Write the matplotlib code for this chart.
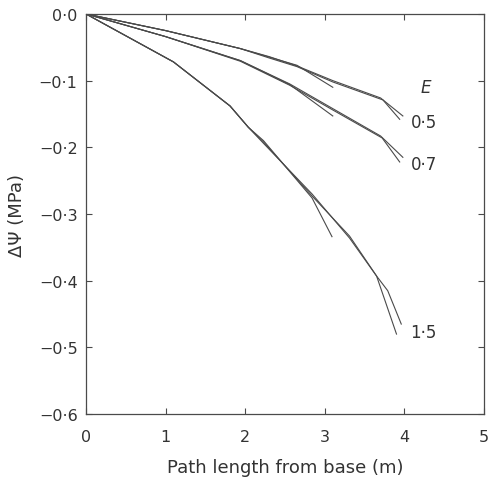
import numpy as np
import matplotlib.pyplot as plt

# path length (m) and water potential drop (MPa)
# three traces per transpiration rate E: two long ones and one short one
x_05_long = [0, 1.0, 1.94, 2.3, 2.65, 3.1, 3.7, 3.98]
y_05_a = [0, -0.025, -0.052, -0.064, -0.078, -0.100, -0.126, -0.153]
x_05_b = [0, 1.0, 1.94, 2.3, 2.65, 3.1, 3.73, 3.94]
y_05_b = [0, -0.025, -0.052, -0.066, -0.079, -0.102, -0.129, -0.158]
x_05_short = [0, 1.0, 1.94, 2.65, 3.1]
y_05_short = [0, -0.025, -0.052, -0.077, -0.110]

x_07_long = [0, 1.0, 1.94, 2.56, 3.1, 3.7, 3.98]
y_07_a = [0, -0.034, -0.070, -0.105, -0.142, -0.183, -0.215]
x_07_b = [0, 1.0, 1.94, 2.56, 3.1, 3.72, 3.94]
y_07_b = [0, -0.034, -0.071, -0.107, -0.144, -0.186, -0.222]
x_07_short = [0, 1.0, 1.94, 2.56, 3.1]
y_07_short = [0, -0.034, -0.070, -0.106, -0.153]

x_15_long = [0, 1.1, 1.81, 2.04, 2.23, 2.84, 3.31, 3.65, 3.79, 3.96]
y_15_a = [0, -0.072, -0.138, -0.170, -0.192, -0.273, -0.333, -0.393, -0.415, -0.465]
x_15_b = [0, 1.1, 1.81, 2.04, 2.23, 2.84, 3.31, 3.65, 3.90]
y_15_b = [0, -0.072, -0.138, -0.170, -0.194, -0.270, -0.336, -0.393, -0.480]
x_15_short = [0, 1.1, 1.81, 2.04, 2.23, 2.84, 3.09]
y_15_short = [0, -0.072, -0.138, -0.170, -0.190, -0.276, -0.334]

e_labels = ["0·5", "0·7", "1·5"]
e_label_pos = [(4.08, -0.162), (4.08, -0.225), (4.07, -0.477)]

x_ticks = [0, 1, 2, 3, 4, 5]
y_ticks = [0.0, -0.1, -0.2, -0.3, -0.4, -0.5, -0.6]
y_tick_labels = ["0·0", "−0·1", "−0·2", "−0·3", "−0·4", "−0·5", "−0·6"]

line_color = "#4a4a4a"
text_color = "#333333"

fig = plt.figure(figsize=(4.88, 4.81), dpi=100)
ax = fig.add_axes([0.176, 0.137, 0.816, 0.832])

traces = [
    (x_05_long, y_05_a), (x_05_b, y_05_b), (x_05_short, y_05_short),
    (x_07_long, y_07_a), (x_07_b, y_07_b), (x_07_short, y_07_short),
    (x_15_long, y_15_a), (x_15_b, y_15_b), (x_15_short, y_15_short),
]
for xs, ys in traces:
    ax.plot(xs, ys, color=line_color, lw=0.8)

ax.text(4.2, -0.109, "E", fontsize=12, style="italic", color=text_color,
        ha="left", va="center")
for lab, (lx, ly) in zip(e_labels, e_label_pos):
    ax.text(lx, ly, lab, fontsize=12, color=text_color, ha="left", va="center")

ax.set_xlim(0, 5)
ax.set_ylim(-0.6, 0.0)
ax.set_xticks(x_ticks)
ax.set_xticklabels([str(t) for t in x_ticks])
ax.set_yticks(y_ticks)
ax.set_yticklabels(y_tick_labels)
ax.tick_params(direction="in", top=True, right=True, length=4, width=0.8,
               labelsize=11.5, labelcolor=text_color, color=line_color)
ax.tick_params(axis="x", pad=11)
ax.tick_params(axis="y", pad=6)
for s in ax.spines.values():
    s.set_color(line_color)
    s.set_linewidth(0.9)

ax.set_xlabel("Path length from base (m)", fontsize=13, color=text_color, labelpad=10)
ax.set_ylabel("ΔΨ (MPa)", fontsize=13, color=text_color, labelpad=9)

fig.savefig("out.png", dpi=100)
